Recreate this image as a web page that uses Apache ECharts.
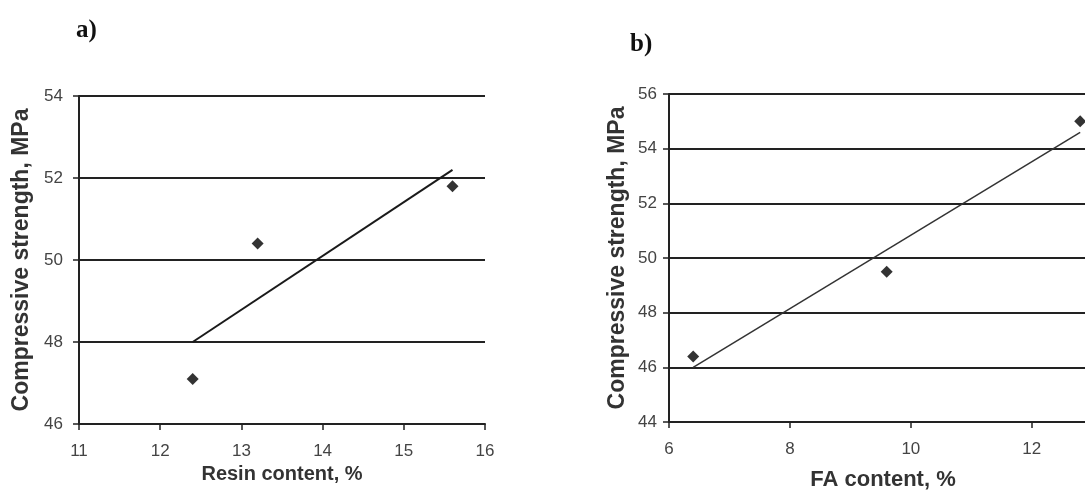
<!DOCTYPE html>
<html>
<head>
<meta charset="utf-8">
<script src="https://cdn.jsdelivr.net/npm/echarts@6/dist/echarts.min.js"></script>
<style>
html,body{margin:0;padding:0;background:#fff;}
#chart{width:1085px;height:496px;}
</style>
</head>
<body>
<div id="chart"></div>
<script>
// Panel a) Resin content
const resinPoints = [[12.4, 47.1], [13.2, 50.4], [15.6, 51.8]];
const resinTrend = [[12.4, 48.0], [15.6, 52.2]];
// Panel b) FA content
const faPoints = [[6.4, 46.4], [9.6, 49.5], [12.8, 55.0]];
const faTrend = [[6.4, 46.0], [12.8, 54.6]];

const panelLabels = ['a)', 'b)'];
const xNames = ['Resin content, %', 'FA content, %'];
const yName = 'Compressive strength, MPa';

const chart = echarts.init(document.getElementById('chart'));
const dark = '#222';
const tickLabel = { color: '#444', fontSize: 17, fontFamily: 'Liberation Sans' };
const nameStyle = { color: '#333', fontSize: 20, fontWeight: 'bold', fontFamily: 'Liberation Sans' };

chart.setOption({
  animation: false,
  backgroundColor: '#fff',
  title: [
    { text: panelLabels[0], left: 71, top: 13,
      textStyle: { fontFamily: 'Liberation Serif', fontWeight: 'bold', fontSize: 25, color: '#111' } },
    { text: panelLabels[1], left: 625, top: 27,
      textStyle: { fontFamily: 'Liberation Serif', fontWeight: 'bold', fontSize: 25, color: '#111' } }
  ],
  grid: [
    { left: 79, top: 96, width: 406, height: 328, containLabel: false },
    { left: 669, top: 94, width: 416, height: 329, containLabel: false }
  ],
  xAxis: [
    { type: 'value', gridIndex: 0, min: 11, max: 16, interval: 1,
      name: xNames[0], nameLocation: 'middle', nameGap: 38, nameTextStyle: nameStyle,
      axisLine: { lineStyle: { color: dark, width: 2 } },
      axisTick: { show: true, length: 6, lineStyle: { color: dark, width: 1.5 } },
      axisLabel: Object.assign({ margin: 19 }, tickLabel),
      splitLine: { show: false } },
    { type: 'value', gridIndex: 1, min: 6, max: 12.88, interval: 2,
      name: xNames[1], nameLocation: 'middle', nameGap: 47,
      nameTextStyle: Object.assign({}, nameStyle, { fontSize: 22, padding: [0, 0, 0, 12] }),
      axisLine: { lineStyle: { color: dark, width: 2 } },
      axisTick: { show: true, length: 6, lineStyle: { color: dark, width: 1.5 } },
      axisLabel: Object.assign({ margin: 19, showMaxLabel: false }, tickLabel),
      splitLine: { show: false } }
  ],
  yAxis: [
    { type: 'value', gridIndex: 0, min: 46, max: 54, interval: 2,
      name: yName, nameLocation: 'middle', nameGap: 46, nameRotate: 90,
      nameTextStyle: Object.assign({}, nameStyle, { fontSize: 23 }),
      axisLine: { show: true, lineStyle: { color: dark, width: 2 } },
      axisTick: { show: true, length: 6, lineStyle: { color: dark, width: 1.5 } },
      axisLabel: Object.assign({ margin: 16 }, tickLabel),
      splitLine: { show: true, lineStyle: { color: dark, width: 2 } } },
    { type: 'value', gridIndex: 1, min: 44, max: 56, interval: 2,
      name: yName, nameLocation: 'middle', nameGap: 40, nameRotate: 90,
      nameTextStyle: Object.assign({}, nameStyle, { fontSize: 23 }),
      axisLine: { show: true, lineStyle: { color: dark, width: 2 } },
      axisTick: { show: true, length: 6, lineStyle: { color: dark, width: 1.5 } },
      axisLabel: Object.assign({ margin: 12 }, tickLabel),
      splitLine: { show: true, lineStyle: { color: dark, width: 2 } } }
  ],
  series: [
    { type: 'scatter', xAxisIndex: 0, yAxisIndex: 0, data: resinPoints,
      symbol: 'diamond', symbolSize: 12, itemStyle: { color: '#000' }, z: 5 },
    { type: 'line', xAxisIndex: 0, yAxisIndex: 0, data: resinTrend,
      showSymbol: false, lineStyle: { color: '#1a1a1a', width: 2 } },
    { type: 'scatter', xAxisIndex: 1, yAxisIndex: 1, data: faPoints,
      symbol: 'diamond', symbolSize: 12, itemStyle: { color: '#000' }, z: 5 },
    { type: 'line', xAxisIndex: 1, yAxisIndex: 1, data: faTrend,
      showSymbol: false, lineStyle: { color: '#333', width: 1.5 } }
  ]
});
</script>
</body>
</html>
